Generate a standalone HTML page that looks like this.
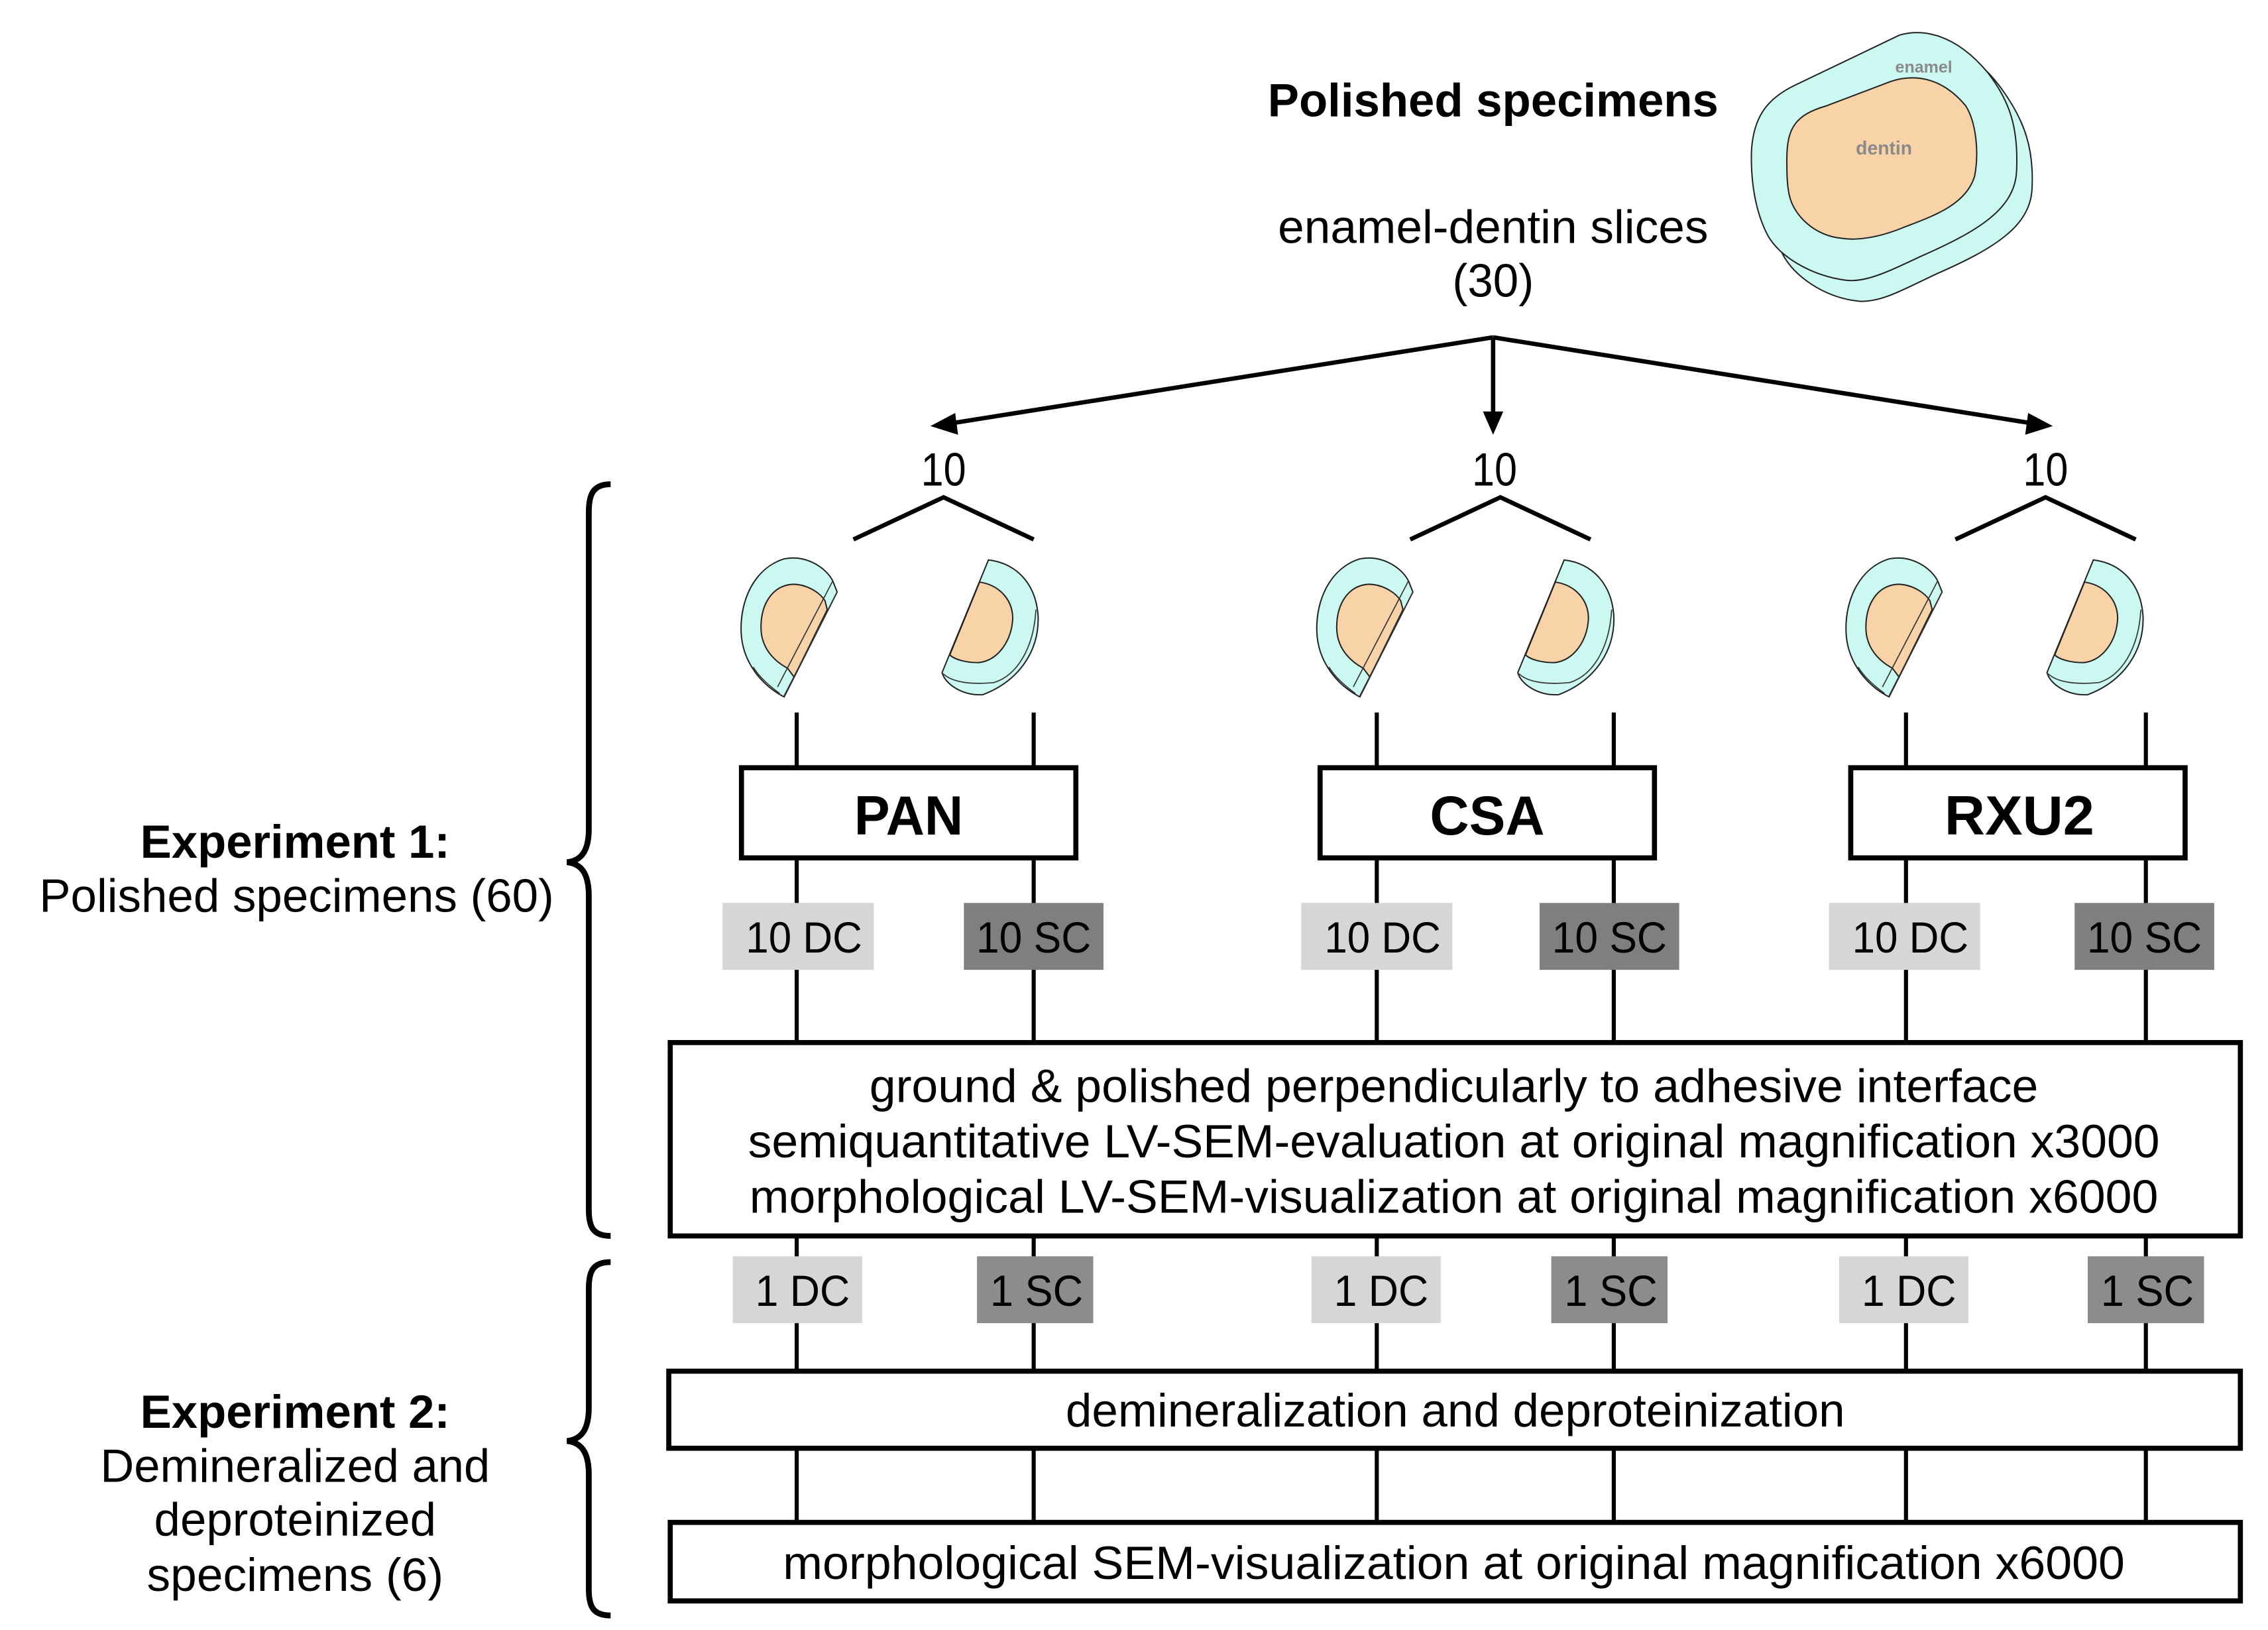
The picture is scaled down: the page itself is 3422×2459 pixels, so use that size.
<!DOCTYPE html>
<html><head><meta charset="utf-8"><style>html,body{margin:0;padding:0;background:#fff}svg{display:block}</style></head>
<body>
<svg width="3422" height="2459" viewBox="0 0 1560 1121" xmlns="http://www.w3.org/2000/svg" font-family="'Liberation Sans', sans-serif">
<defs>
<g id="dc">
<path d="M240,690 C150,640 60,540 55,400 C50,250 120,110 250,70 C350,50 440,110 470,170 L490,220 L250,695 Z" fill="#ccf8f2" stroke="#222" stroke-width="6"/>
<path d="M265,565 C200,530 145,470 145,380 C145,270 200,190 290,185 C350,185 410,220 435,260 L445,300 L295,605 Z" fill="#f8d3a8" stroke="#222" stroke-width="6"/>
<path d="M470,170 L220,650 M490,220 L250,690 M110,560 C140,610 190,650 230,680" fill="none" stroke="#333" stroke-width="5"/>
</g>
<g id="sc">
<path d="M1175,75 C1300,90 1390,180 1400,330 C1405,480 1320,620 1150,685 C1060,690 980,640 965,585 L1175,75 Z" fill="#ccf8f2" stroke="#222" stroke-width="6"/>
<path d="M1135,175 C1230,190 1285,260 1285,340 C1280,440 1220,530 1130,540 C1070,540 1020,525 1000,505 Z" fill="#f8d3a8" stroke="#222" stroke-width="6"/>
<path d="M970,590 C1010,630 1100,640 1200,630 C1300,600 1380,480 1390,300" fill="none" stroke="#333" stroke-width="5"/>
</g>
</defs>
<rect width="1560" height="1121" fill="#fff"/>

<!-- big tooth -->
<g transform="translate(1185,12) scale(0.1519)">
<path d="M200,700 C210,520 280,430 400,380 L880,150 C980,110 1130,140 1260,320 C1370,470 1410,600 1400,780 C1390,950 1220,1050 970,1160 C820,1230 720,1290 620,1285 C460,1270 320,1170 270,1070 C220,960 195,830 200,700 Z" fill="#ccf8f2" stroke="#222" stroke-width="6"/>
<path d="M130,600 C140,450 200,370 320,310 L800,80 C900,50 1050,70 1200,250 C1300,380 1340,500 1330,700 C1320,870 1150,970 900,1080 C750,1150 650,1200 560,1190 C400,1170 250,1080 200,980 C150,880 125,750 130,600 Z" fill="#ccf8f2" stroke="#222" stroke-width="6"/>
<path d="M290,640 C290,500 330,440 470,400 L760,290 C880,250 1000,280 1100,400 C1150,480 1160,620 1140,720 C1100,850 950,900 820,950 C700,1000 600,1010 540,1000 C420,990 320,900 300,800 C290,750 290,700 290,640 Z" fill="#f8d3a8" stroke="#222" stroke-width="6"/>
<text x="910" y="250" font-size="75" font-weight="bold" fill="#8a8a8a" text-anchor="middle">enamel</text>
<text x="730" y="620" font-size="85" font-weight="bold" fill="#8a8a8a" text-anchor="middle">dentin</text>
</g>

<g fill="#000" text-anchor="middle" font-size="32">
<text x="1027" y="80" font-weight="bold" textLength="310" lengthAdjust="spacingAndGlyphs">Polished specimens</text>
<text x="1027" y="167" textLength="296" lengthAdjust="spacingAndGlyphs">enamel-dentin slices</text>
<text x="1027" y="204" textLength="56" lengthAdjust="spacingAndGlyphs">(30)</text>
<text x="649" y="334" textLength="31" lengthAdjust="spacingAndGlyphs">10</text>
<text x="1028" y="334" textLength="31" lengthAdjust="spacingAndGlyphs">10</text>
<text x="1407" y="334" textLength="31" lengthAdjust="spacingAndGlyphs">10</text>
</g>

<!-- arrows -->
<g stroke="#000" stroke-width="3" fill="none">
<line x1="1027" y1="232" x2="655" y2="291"/>
<line x1="1027" y1="232" x2="1027" y2="285"/>
<line x1="1027" y1="232" x2="1397" y2="291"/>
<polyline points="587,371 649,342 711,371"/>
<polyline points="970,371 1032,342 1094,371"/>
<polyline points="1345,371 1407,342 1469,371"/>
</g>
<g fill="#000">
<polygon points="640,293 657,284 659,299"/>
<polygon points="1027,299 1020,283 1034,283"/>
<polygon points="1412,293 1395,284 1393,299"/>
</g>

<!-- small teeth -->
<g transform="translate(501.4,373.7) scale(0.1519)"><use href="#dc"/><use href="#sc"/></g>
<g transform="translate(897.4,373.7) scale(0.1519)"><use href="#dc"/><use href="#sc"/></g>
<g transform="translate(1261.4,373.7) scale(0.1519)"><use href="#dc"/><use href="#sc"/></g>

<!-- vertical connectors -->
<g stroke="#000" stroke-width="2.8">
<line x1="548" y1="490" x2="548" y2="1048"/>
<line x1="711" y1="490" x2="711" y2="1048"/>
<line x1="947" y1="490" x2="947" y2="1048"/>
<line x1="1110" y1="490" x2="1110" y2="1048"/>
<line x1="1311" y1="490" x2="1311" y2="1048"/>
<line x1="1476" y1="490" x2="1476" y2="1048"/>
</g>

<!-- product boxes -->
<g fill="#fff" stroke="#000" stroke-width="3.5">
<rect x="510" y="528" width="230" height="62"/>
<rect x="908" y="528" width="230" height="62"/>
<rect x="1273" y="528" width="230" height="62"/>
</g>
<g font-size="38" font-weight="bold" text-anchor="middle">
<text x="625" y="574" textLength="75" lengthAdjust="spacingAndGlyphs">PAN</text>
<text x="1023" y="574" textLength="79" lengthAdjust="spacingAndGlyphs">CSA</text>
<text x="1389" y="574" textLength="103" lengthAdjust="spacingAndGlyphs">RXU2</text>
</g>

<!-- 10 DC / SC -->
<g>
<rect x="497" y="621" width="104" height="46" fill="#d6d6d6"/>
<rect x="663" y="621" width="96" height="46" fill="#7f7f7f"/>
<rect x="895" y="621" width="104" height="46" fill="#d6d6d6"/>
<rect x="1059" y="621" width="96" height="46" fill="#7f7f7f"/>
<rect x="1258" y="621" width="104" height="46" fill="#d6d6d6"/>
<rect x="1427" y="621" width="96" height="46" fill="#7f7f7f"/>
</g>
<g font-size="30" text-anchor="middle" fill="#000">
<text x="553" y="655" textLength="80" lengthAdjust="spacingAndGlyphs">10 DC</text>
<text x="711" y="655" textLength="79" lengthAdjust="spacingAndGlyphs">10 SC</text>
<text x="951" y="655" textLength="80" lengthAdjust="spacingAndGlyphs">10 DC</text>
<text x="1107" y="655" textLength="79" lengthAdjust="spacingAndGlyphs">10 SC</text>
<text x="1314" y="655" textLength="80" lengthAdjust="spacingAndGlyphs">10 DC</text>
<text x="1475" y="655" textLength="79" lengthAdjust="spacingAndGlyphs">10 SC</text>
</g>

<!-- big box -->
<rect x="461" y="717" width="1080" height="133" fill="#fff" stroke="#000" stroke-width="3.5"/>
<g font-size="32" text-anchor="middle">
<text x="1000" y="758" textLength="804" lengthAdjust="spacingAndGlyphs">ground &amp; polished perpendicularly to adhesive interface</text>
<text x="1000" y="796" textLength="971" lengthAdjust="spacingAndGlyphs">semiquantitative LV-SEM-evaluation at original magnification x3000</text>
<text x="1000" y="834" textLength="969" lengthAdjust="spacingAndGlyphs">morphological LV-SEM-visualization at original magnification x6000</text>
</g>

<!-- 1 DC / SC -->
<g>
<rect x="504" y="864" width="89" height="46" fill="#d6d6d6"/>
<rect x="672" y="864" width="80" height="46" fill="#8c8c8c"/>
<rect x="902" y="864" width="89" height="46" fill="#d6d6d6"/>
<rect x="1067" y="864" width="80" height="46" fill="#8c8c8c"/>
<rect x="1265" y="864" width="89" height="46" fill="#d6d6d6"/>
<rect x="1436" y="864" width="80" height="46" fill="#8c8c8c"/>
</g>
<g font-size="30" text-anchor="middle">
<text x="552" y="898" textLength="65" lengthAdjust="spacingAndGlyphs">1 DC</text>
<text x="713" y="898" textLength="64" lengthAdjust="spacingAndGlyphs">1 SC</text>
<text x="950" y="898" textLength="65" lengthAdjust="spacingAndGlyphs">1 DC</text>
<text x="1108" y="898" textLength="64" lengthAdjust="spacingAndGlyphs">1 SC</text>
<text x="1313" y="898" textLength="65" lengthAdjust="spacingAndGlyphs">1 DC</text>
<text x="1477" y="898" textLength="64" lengthAdjust="spacingAndGlyphs">1 SC</text>
</g>

<rect x="460" y="943" width="1081" height="53" fill="#fff" stroke="#000" stroke-width="3.5"/>
<text x="1001" y="981" font-size="32" text-anchor="middle" textLength="536" lengthAdjust="spacingAndGlyphs">demineralization and deproteinization</text>
<rect x="461" y="1047" width="1080" height="54" fill="#fff" stroke="#000" stroke-width="3.5"/>
<text x="1000" y="1086" font-size="32" text-anchor="middle" textLength="923" lengthAdjust="spacingAndGlyphs">morphological SEM-visualization at original magnification x6000</text>

<!-- braces -->
<g fill="none" stroke="#000" stroke-width="4">
<path d="M420,333 C408,333 405,340 405,352 L405,570 C405,585 400,592 390,593 C400,594 405,601 405,616 L405,832 C405,844 408,850 420,850"/>
<path d="M420,868 C408,868 405,874 405,886 L405,968 C405,983 400,990 390,991 C400,992 405,999 405,1014 L405,1093 C405,1105 408,1111 420,1111"/>
</g>

<g font-size="32" text-anchor="middle">
<text x="203" y="590" font-weight="bold" textLength="213" lengthAdjust="spacingAndGlyphs">Experiment 1:</text>
<text x="204" y="627" textLength="354" lengthAdjust="spacingAndGlyphs">Polished specimens (60)</text>
<text x="203" y="982" font-weight="bold" textLength="213" lengthAdjust="spacingAndGlyphs">Experiment 2:</text>
<text x="203" y="1019" textLength="268" lengthAdjust="spacingAndGlyphs">Demineralized and</text>
<text x="203" y="1056" textLength="194" lengthAdjust="spacingAndGlyphs">deproteinized</text>
<text x="203" y="1094" textLength="204" lengthAdjust="spacingAndGlyphs">specimens (6)</text>
</g>
</svg>
</body></html>
